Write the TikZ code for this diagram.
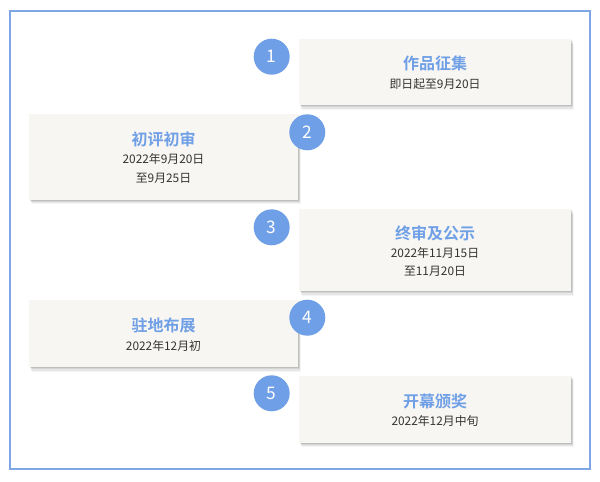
\documentclass[tikz,border=0pt]{standalone}
\usepackage{fontspec}
\setmainfont{Noto Sans CJK SC}[BoldFont={* Bold}]
\usetikzlibrary{shadows}
\definecolor{tblue}{HTML}{6F9FE6}
\definecolor{framec}{HTML}{7FA6E6}
\definecolor{boxfill}{HTML}{F7F6F2}
\definecolor{subc}{HTML}{333333}
\tikzset{
  stagebox/.style={fill=boxfill, draw=none, inner sep=0pt,
    general shadow={shadow xshift=0.6pt, shadow yshift=-0.9pt, opacity=0.10, fill=black},
    general shadow={shadow xshift=1.2pt, shadow yshift=-1.8pt, opacity=0.08, fill=black},
    general shadow={shadow xshift=1.8pt, shadow yshift=-2.7pt, opacity=0.06, fill=black},
    general shadow={shadow xshift=2.4pt, shadow yshift=-3.6pt, opacity=0.04, fill=black}},
  numdot/.style={circle, fill=tblue, minimum size=27pt, inner sep=0pt, text=white, font=\fontsize{13pt}{15pt}\selectfont},
  ttl/.style={text=tblue, font=\fontsize{12pt}{14pt}\selectfont\bfseries, inner sep=0pt},
  sub/.style={text=subc, font=\fontsize{8.9pt}{10pt}\selectfont, inner sep=0pt, align=center},
}
\begin{document}
\begin{tikzpicture}[x=0.75pt,y=-0.75pt]
\useasboundingbox (0,0) rectangle (600,482);
\fill[white] (0,0) rectangle (600,482);
\draw[framec, line width=1.2pt] (10,11) rectangle (590,469);
% boxes
\node[stagebox, minimum width=272*0.75pt, minimum height=66*0.75pt] (b1) at (435,72) {};
\node[stagebox, minimum width=269*0.75pt, minimum height=86*0.75pt] (b2) at (163.5,156.5) {};
\node[stagebox, minimum width=272*0.75pt, minimum height=82*0.75pt] (b3) at (435,250) {};
\node[stagebox, minimum width=269*0.75pt, minimum height=67*0.75pt] (b4) at (163.5,333.5) {};
\node[stagebox, minimum width=272*0.75pt, minimum height=67*0.75pt] (b5) at (435,409) {};
% circles
\node[numdot] (c1) at (271.7,56.7) {1};
\node[numdot] (c2) at (307.3,132.3) {2};
\node[numdot] (c3) at (271.7,227.3) {3};
\node[numdot] (c4) at (307.3,317.7) {4};
\node[numdot] (c5) at (271.7,393.3) {5};
% texts
\node[ttl] (t1) at (435,63.5) {作品征集};
\node[sub] (s1) at (435,84) {即日起至9月20日};
\node[ttl] (t2) at (163.5,139) {初评初审};
\node[sub] (s2) at (163.5,158.5) {2022年9月20日};
\node[sub] (s2b) at (163.5,178) {至9月25日};
\node[ttl] (t3) at (435,233.5) {终审及公示};
\node[sub] (s3) at (435,253) {2022年11月15日};
\node[sub] (s3b) at (435,271) {至11月20日};
\node[ttl] (t4) at (163.5,325) {驻地布展};
\node[sub] (s4) at (163.5,345.5) {2022年12月初};
\node[ttl] (t5) at (435,401) {开幕颁奖};
\node[sub] (s5) at (435,421) {2022年12月中旬};
\end{tikzpicture}
\end{document}
